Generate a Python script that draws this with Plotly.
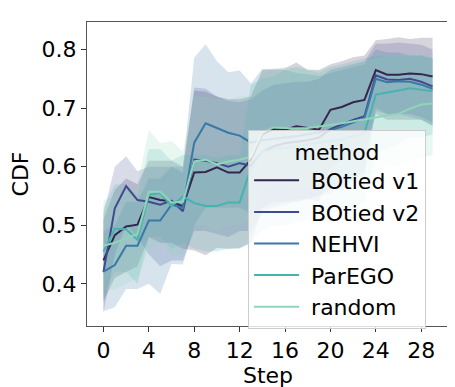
import plotly.graph_objects as go

steps = list(range(30))

methods = ["BOtied v1", "BOtied v2", "NEHVI", "ParEGO", "random"]
colors = ["#35264e", "#414a8f", "#3979a6", "#45b4ae", "#8fd5b7"]
fills = ["rgba(53,38,78,0.2)", "rgba(65,74,143,0.2)", "rgba(57,121,166,0.2)",
         "rgba(69,180,174,0.2)", "rgba(143,213,183,0.2)"]

# mean CDF per step
botied_v1 = [0.44, 0.483, 0.498, 0.501, 0.548, 0.543, 0.541, 0.532, 0.59, 0.591,
             0.599, 0.59, 0.59, 0.612, 0.655, 0.664, 0.663, 0.669, 0.666, 0.663,
             0.697, 0.702, 0.71, 0.714, 0.765, 0.757, 0.757, 0.759, 0.758, 0.754]
botied_v2 = [0.42, 0.529, 0.567, 0.543, 0.54, 0.535, 0.542, 0.524, 0.612, 0.61,
             0.606, 0.6, 0.606, 0.602, 0.625, 0.635, 0.64, 0.642, 0.645, 0.65,
             0.664, 0.672, 0.68, 0.686, 0.756, 0.749, 0.748, 0.75, 0.745, 0.737]
nehvi = [0.421, 0.432, 0.465, 0.465, 0.508, 0.508, 0.535, 0.53, 0.641, 0.674,
         0.666, 0.658, 0.653, 0.641, 0.645, 0.648, 0.65, 0.652, 0.655, 0.658,
         0.662, 0.668, 0.675, 0.683, 0.75, 0.744, 0.746, 0.745, 0.74, 0.733]
parego = [0.455, 0.494, 0.493, 0.475, 0.552, 0.555, 0.533, 0.549, 0.538, 0.533,
          0.533, 0.539, 0.539, 0.598, 0.625, 0.63, 0.632, 0.635, 0.637, 0.64,
          0.643, 0.647, 0.652, 0.657, 0.723, 0.726, 0.73, 0.734, 0.731, 0.729]
random_ = [0.465, 0.47, 0.478, 0.485, 0.557, 0.557, 0.539, 0.54, 0.609, 0.612,
           0.604, 0.609, 0.612, 0.617, 0.659, 0.667, 0.666, 0.665, 0.666, 0.668,
           0.671, 0.674, 0.677, 0.681, 0.684, 0.688, 0.69, 0.699, 0.706, 0.708]

# confidence band bounds
upper_v1 = [0.51, 0.56, 0.58, 0.57, 0.61, 0.61, 0.61, 0.60, 0.73, 0.728,
            0.72, 0.715, 0.715, 0.72, 0.765, 0.767, 0.768, 0.778, 0.765, 0.765,
            0.775, 0.78, 0.787, 0.79, 0.816, 0.818, 0.821, 0.818, 0.82, 0.82]
lower_v1 = [0.37, 0.41, 0.42, 0.43, 0.48, 0.47, 0.47, 0.46, 0.457, 0.449,
            0.461, 0.46, 0.461, 0.47, 0.53, 0.54, 0.54, 0.545, 0.545, 0.54,
            0.6, 0.61, 0.62, 0.625, 0.69, 0.68, 0.68, 0.68, 0.68, 0.67]
upper_v2 = [0.52, 0.6, 0.618, 0.592, 0.6, 0.6, 0.6, 0.59, 0.735, 0.733,
            0.72, 0.712, 0.71, 0.715, 0.73, 0.74, 0.742, 0.745, 0.745, 0.75,
            0.765, 0.77, 0.775, 0.78, 0.81, 0.81, 0.812, 0.81, 0.808, 0.8]
lower_v2 = [0.35, 0.45, 0.5, 0.48, 0.45, 0.43, 0.44, 0.44, 0.49, 0.49,
            0.485, 0.48, 0.49, 0.49, 0.52, 0.53, 0.535, 0.54, 0.545, 0.55,
            0.56, 0.57, 0.58, 0.59, 0.7, 0.69, 0.69, 0.69, 0.685, 0.675]
upper_nehvi = [0.49, 0.5, 0.54, 0.54, 0.58, 0.58, 0.6, 0.6, 0.786, 0.809,
               0.78, 0.761, 0.764, 0.742, 0.767, 0.765, 0.765, 0.76, 0.758, 0.755,
               0.76, 0.765, 0.77, 0.775, 0.8, 0.795, 0.795, 0.79, 0.79, 0.785]
lower_nehvi = [0.353, 0.36, 0.391, 0.391, 0.40, 0.383, 0.434, 0.433, 0.5, 0.53,
               0.53, 0.53, 0.53, 0.52, 0.53, 0.535, 0.54, 0.54, 0.545, 0.55,
               0.555, 0.565, 0.575, 0.585, 0.695, 0.69, 0.69, 0.685, 0.68, 0.67]
upper_parego = [0.53, 0.57, 0.57, 0.55, 0.63, 0.63, 0.61, 0.62, 0.62, 0.62,
                0.615, 0.62, 0.62, 0.74, 0.75, 0.755, 0.765, 0.77, 0.765, 0.76,
                0.77, 0.775, 0.78, 0.785, 0.79, 0.79, 0.79, 0.79, 0.79, 0.785]
lower_parego = [0.38, 0.42, 0.42, 0.40, 0.48, 0.48, 0.46, 0.47, 0.46, 0.455,
                0.455, 0.46, 0.46, 0.47, 0.49, 0.5, 0.5, 0.505, 0.51, 0.51,
                0.52, 0.525, 0.53, 0.54, 0.62, 0.63, 0.64, 0.65, 0.65, 0.655]
upper_random = [0.543, 0.55, 0.56, 0.57, 0.663, 0.64, 0.644, 0.626, 0.72, 0.72,
                0.715, 0.715, 0.72, 0.72, 0.76, 0.765, 0.77, 0.77, 0.768, 0.765,
                0.77, 0.77, 0.775, 0.78, 0.785, 0.79, 0.79, 0.795, 0.79, 0.79]
lower_random = [0.39, 0.39, 0.40, 0.41, 0.46, 0.47, 0.45, 0.45, 0.5, 0.5,
                0.49, 0.5, 0.5, 0.51, 0.56, 0.57, 0.57, 0.565, 0.565, 0.57,
                0.575, 0.58, 0.58, 0.585, 0.59, 0.6, 0.6, 0.61, 0.615, 0.62]

means = [botied_v1, botied_v2, nehvi, parego, random_]
uppers = [upper_v1, upper_v2, upper_nehvi, upper_parego, upper_random]
lowers = [lower_v1, lower_v2, lower_nehvi, lower_parego, lower_random]

fig = go.Figure()

# bands first
for name, up, lo, fc in zip(methods, uppers, lowers, fills):
    fig.add_trace(go.Scatter(x=steps, y=up, mode="lines", line=dict(width=0),
                             showlegend=False, hoverinfo="skip"))
    fig.add_trace(go.Scatter(x=steps, y=lo, mode="lines", line=dict(width=0),
                             fill="tonexty", fillcolor=fc,
                             showlegend=False, hoverinfo="skip"))

for name, m, c in zip(methods, means, colors):
    fig.add_trace(go.Scatter(x=steps, y=m, mode="lines", name=" " + name,
                             legendgroup=name,
                             line=dict(color=c, width=2)))

font = dict(family="DejaVu Sans", size=22, color="black")
axis_common = dict(showline=True, mirror=True, linecolor="#555555", linewidth=1,
                   ticks="outside", ticklen=5, tickwidth=1, tickcolor="#333333",
                   showgrid=False, zeroline=False, tickfont=font)

fig.update_layout(
    width=455, height=387,
    margin=dict(l=77, r=14, t=14, b=55),
    plot_bgcolor="white", paper_bgcolor="white",
    font=font,
    xaxis=dict(range=[-1.45, 30.45], tickvals=list(range(0, 29, 4)),
               title=dict(text="Step", font=font, standoff=4), **axis_common),
    yaxis=dict(range=[0.328, 0.847], tickvals=[0.4, 0.5, 0.6, 0.7, 0.8],
               tickformat=".1f",
               title=dict(text="CDF", font=font, standoff=6), **axis_common),
    legend=dict(x=0.445, y=0.645, xanchor="left", yanchor="top",
                traceorder="normal", tracegroupgap=3,
                bgcolor="rgba(255,255,255,0.8)", bordercolor="#cccccc",
                borderwidth=1, font=font, itemwidth=45,
                title=dict(text="method", font=font, side="top center")),
)

fig.write_html("out.html")
